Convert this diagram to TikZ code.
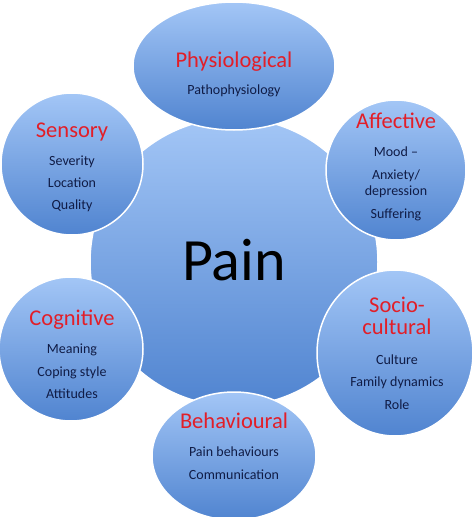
\documentclass[tikz,border=0pt]{standalone}
\usepackage{fontspec}
\setmainfont{Carlito}
\usetikzlibrary{shapes.geometric}
\definecolor{topblue}{RGB}{163,198,246}
\definecolor{botblue}{RGB}{80,132,208}
\definecolor{titlered}{RGB}{226,30,40}
\definecolor{navy}{RGB}{16,28,70}
\tikzset{
  bubble/.style={draw=white, line width=1.5pt, top color=topblue, bottom color=botblue, inner sep=0pt},
  title/.style={anchor=base, text=titlered, font=\fontsize{22.5}{24}\selectfont, inner sep=0pt},
  item/.style={anchor=base, text=navy, font=\fontsize{14}{16}\selectfont, inner sep=0pt},
}
\begin{document}
\begin{tikzpicture}[x=1pt,y=-1pt]
\useasboundingbox (0,0) rectangle (474,517);
\fill[white] (0,0) rectangle (474,517);
% central circle
\node[bubble, circle, minimum size=288pt] (pain) at (234,262) {};
% satellites
\node[bubble, ellipse, minimum width=202pt, minimum height=128pt] (phys) at (234,66) {};
\node[bubble, circle, minimum size=142pt] (sens) at (72,164) {};
\node[bubble, circle, minimum size=140pt] (aff) at (396,170) {};
\node[bubble, circle, minimum size=144pt] (cog) at (71,349) {};
\node[bubble, ellipse, minimum width=156pt, minimum height=166pt] (soc) at (395,353) {};
\node[bubble, ellipse, minimum width=164pt, minimum height=128pt] (beh) at (234,456) {};
% centre text
\node[anchor=base, inner sep=0pt, font=\fontsize{60}{66}\selectfont] (paint) at (234,280) {Pain};
% Physiological
\node[title] (physT) at (234,67) {Physiological};
\node[item] (phys1) at (234,94) {Pathophysiology};
% Sensory
\node[title] (sensT) at (72,137) {Sensory};
\node[item] (sens1) at (72,165) {Severity};
\node[item] (sens2) at (72,187) {Location};
\node[item] (sens3) at (72,209) {Quality};
% Affective
\node[title] (affT) at (396,128) {Affective};
\node[item] (aff1) at (396,156) {Mood –};
\node[item] (aff2) at (396,179) {Anxiety/};
\node[item] (aff3) at (396,195) {depression};
\node[item] (aff4) at (396,218) {Suffering};
% Cognitive
\node[title] (cogT) at (72,325) {Cognitive};
\node[item] (cog1) at (72,353) {Meaning};
\node[item] (cog2) at (72,376) {Coping style};
\node[item] (cog3) at (72,398) {Attitudes};
% Socio-cultural
\node[title] (socT1) at (397,312) {Socio-};
\node[title] (socT2) at (397,334) {cultural};
\node[item] (soc1) at (397,364) {Culture};
\node[item] (soc2) at (397,386) {Family dynamics};
\node[item] (soc3) at (397,409) {Role};
% Behavioural
\node[title] (behT) at (234,428) {Behavioural};
\node[item] (beh1) at (234,456) {Pain behaviours};
\node[item] (beh2) at (234,479) {Communication};
\end{tikzpicture}
\end{document}
